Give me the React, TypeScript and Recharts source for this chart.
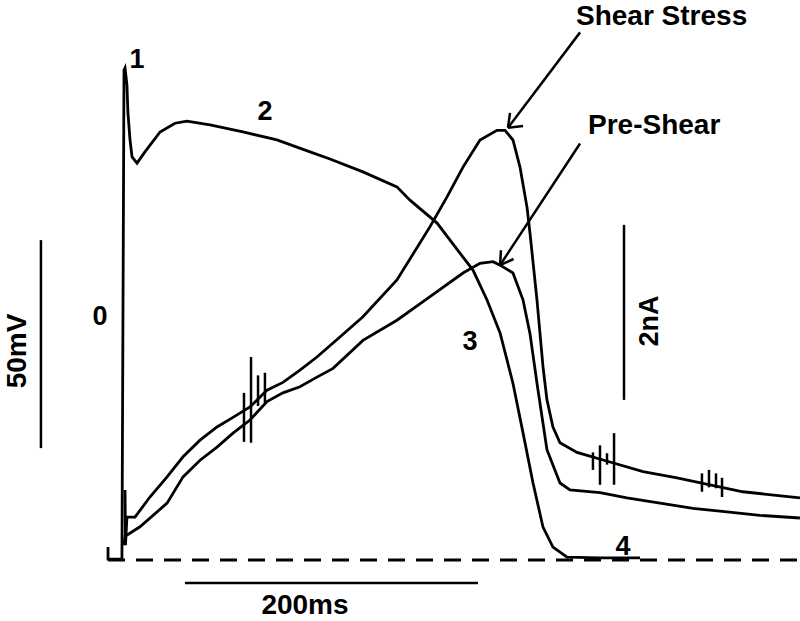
import React from "react";
import { LineChart, Line, XAxis, YAxis, ReferenceLine } from "recharts";

// Action potential (time in ms from upstroke, membrane potential in mV)
const apTime = [-10.9, -10.9, -1.4, 0, 0.7, 2.0, 2.7, 4.1, 5.5, 8.9, 14.3, 24.6, 34.8, 43.0, 58.7, 81.2, 104.4, 127.0, 140.6, 163.1, 186.3, 195.2, 213.7, 231.4, 238.2, 247.8, 256.7, 265.5, 272.4, 279.2, 286.0, 292.8, 302.4, 324.9, 352.2];
const apVoltage = [-81.9, -84.8, -84.8, 32.8, 33.3, 29.2, 22.5, 16.0, 11.9, 10.4, 13.1, 17.9, 20.0, 20.5, 19.6, 17.9, 16.0, 13.1, 11.4, 8.3, 4.7, 1.5, -4.0, -12.2, -15.3, -22.5, -30.4, -42.5, -54.5, -66.5, -77.1, -81.9, -84.3, -84.5, -84.5];

// Current under shear stress (nA)
const shearTime = [0.7, 1.0, 2.0, 7.5, 17.7, 29.4, 40.3, 51.9, 63.5, 74.4, 86.0, 97.6, 108.5, 120.1, 131.7, 142.7, 163.1, 186.3, 208.9, 220.5, 231.4, 243.0, 254.6, 260.1, 265.5, 270.3, 275.1, 277.1, 281.9, 286.0, 288.7, 292.8, 297.6, 309.2, 331.7, 354.3, 377.5, 400.0, 422.5, 461.4];
const shearCurrent = [0.8, 0.17, 0.49, 0.49, 0.72, 0.95, 1.18, 1.37, 1.52, 1.63, 1.75, 1.94, 2.03, 2.17, 2.32, 2.48, 2.78, 3.2, 3.81, 4.15, 4.49, 4.8, 4.91, 4.91, 4.8, 4.49, 4.03, 3.74, 2.97, 2.21, 1.83, 1.52, 1.34, 1.23, 1.12, 1.01, 0.94, 0.86, 0.78, 0.71];

// Current before shear (nA)
const preTime = [0, 0.7, 10.9, 29.4, 40.3, 51.9, 63.5, 74.4, 86.0, 97.6, 108.5, 120.1, 131.7, 142.7, 163.1, 186.3, 208.9, 231.4, 243.0, 251.9, 256.7, 265.5, 272.4, 277.1, 281.9, 288.7, 297.6, 304.4, 324.9, 343.3, 365.9, 388.4, 411.6, 434.1, 461.4];
const preCurrent = [0.17, 0.27, 0.38, 0.65, 0.95, 1.14, 1.29, 1.45, 1.6, 1.81, 1.91, 1.98, 2.09, 2.19, 2.51, 2.74, 3.01, 3.28, 3.39, 3.41, 3.37, 3.28, 2.97, 2.59, 2.02, 1.26, 0.88, 0.8, 0.77, 0.71, 0.65, 0.59, 0.55, 0.51, 0.48];

// Artifact ticks on the current traces: time, low, high (nA)
const artifactTime = [81.9, 86.7, 91.5, 96.2, 320.1, 324.9, 329.7, 334.5, 394.5, 399.3, 404.1, 408.2];
const artifactLow = [1.35, 1.34, 1.76, 1.79, 1.03, 0.86, 1.09, 0.86, 0.78, 0.83, 0.82, 0.72];
const artifactHigh = [1.91, 2.32, 2.11, 2.14, 1.23, 1.31, 1.22, 1.45, 0.99, 1.03, 0.99, 0.94];

// Scale bars
const restingPotential = -85;
const mVBar = { t: -56.7, from: -58.1, to: -8.1 };
const nABar = { t: 341.3, from: 1.83, to: 3.83 };
const msBar = { from: 41.6, to: 241.6, v: -90.5 };

// Arrows (current axis): tail, tip, head ends
const arrows = [
  { tail: [311.3, 6.03], tip: [262.1, 4.94], h1: [272.4, 4.96], h2: [263.5, 5.11] },
  { tail: [311.3, 4.76], tip: [256.7, 3.37], h1: [265.9, 3.44], h2: [257.3, 3.54] },
];

const apData = apTime.map((t, k) => ({ t, v: apVoltage[k] }));
const shearData = shearTime.map((t, k) => ({ t, i: shearCurrent[k] }));
const preData = preTime.map((t, k) => ({ t, i: preCurrent[k] }));

const W = 800;
const H = 621;
const FONT = "'Liberation Sans', Arial, sans-serif";

export default function App() {
  const txt = { fontFamily: FONT, fontWeight: 700, fill: "#000" } as const;
  return (
    <div style={{ position: "absolute", left: 0, top: 0, width: W, height: H, background: "#fff" }}>
      <LineChart width={W} height={H} margin={{ top: 0, right: 0, bottom: 0, left: 0 }}>
        <XAxis type="number" dataKey="t" domain={[-84.64, 461.43]} hide allowDataOverflow />
        <YAxis yAxisId="v" type="number" domain={[-99.66, 49.62]} hide allowDataOverflow />
        <YAxis yAxisId="i" type="number" domain={[-0.697, 6.4]} hide allowDataOverflow />

        <ReferenceLine
          yAxisId="v"
          segment={[{ x: -10.9, y: restingPotential }, { x: 461.4, y: restingPotential }]}
          stroke="#000"
          strokeWidth={3}
          strokeDasharray="17 11"
        />
        <ReferenceLine
          yAxisId="v"
          segment={[{ x: mVBar.t, y: mVBar.from }, { x: mVBar.t, y: mVBar.to }]}
          stroke="#000"
          strokeWidth={2.5}
        />
        <ReferenceLine
          yAxisId="i"
          segment={[{ x: nABar.t, y: nABar.from }, { x: nABar.t, y: nABar.to }]}
          stroke="#000"
          strokeWidth={2.5}
        />
        <ReferenceLine
          yAxisId="v"
          segment={[{ x: msBar.from, y: msBar.v }, { x: msBar.to, y: msBar.v }]}
          stroke="#000"
          strokeWidth={2.5}
        />
        {artifactTime.map((t, k) => (
          <ReferenceLine
            key={"a" + k}
            yAxisId="i"
            segment={[{ x: t, y: artifactLow[k] }, { x: t, y: artifactHigh[k] }]}
            stroke="#000"
            strokeWidth={2.5}
          />
        ))}
        {arrows.map((a, k) => (
          <React.Fragment key={"arr" + k}>
            <ReferenceLine yAxisId="i" segment={[{ x: a.tail[0], y: a.tail[1] }, { x: a.tip[0], y: a.tip[1] }]} stroke="#000" strokeWidth={2.5} />
            <ReferenceLine yAxisId="i" segment={[{ x: a.tip[0], y: a.tip[1] }, { x: a.h1[0], y: a.h1[1] }]} stroke="#000" strokeWidth={2.5} />
            <ReferenceLine yAxisId="i" segment={[{ x: a.tip[0], y: a.tip[1] }, { x: a.h2[0], y: a.h2[1] }]} stroke="#000" strokeWidth={2.5} />
          </React.Fragment>
        ))}

        <Line data={apData} yAxisId="v" dataKey="v" type="linear" stroke="#000" strokeWidth={2.8} dot={false} activeDot={false} isAnimationActive={false} />
        <Line data={shearData} yAxisId="i" dataKey="i" type="linear" stroke="#000" strokeWidth={2.8} dot={false} activeDot={false} isAnimationActive={false} />
        <Line data={preData} yAxisId="i" dataKey="i" type="linear" stroke="#000" strokeWidth={2.8} dot={false} activeDot={false} isAnimationActive={false} />
      </LineChart>
      <svg width={W} height={H} style={{ position: "absolute", left: 0, top: 0, pointerEvents: "none" }}>
        <text x={576} y={25} fontSize={28} {...txt}>Shear Stress</text>
        <text x={588} y={134} fontSize={28} {...txt}>Pre-Shear</text>
        <text x={137} y={68} fontSize={27} textAnchor="middle" {...txt}>1</text>
        <text x={265} y={120} fontSize={27} textAnchor="middle" {...txt}>2</text>
        <text x={100} y={325} fontSize={27} textAnchor="middle" {...txt}>0</text>
        <text x={470} y={350} fontSize={27} textAnchor="middle" {...txt}>3</text>
        <text x={623} y={555} fontSize={27} textAnchor="middle" {...txt}>4</text>
        <text x={305} y={614} fontSize={28} textAnchor="middle" {...txt}>200ms</text>
        <text x={26} y={351} fontSize={28} textAnchor="middle" transform="rotate(-90 26 351)" {...txt}>50mV</text>
        <text x={658} y={321} fontSize={27} textAnchor="middle" transform="rotate(-90 658 321)" {...txt}>2nA</text>
      </svg>
    </div>
  );
}
